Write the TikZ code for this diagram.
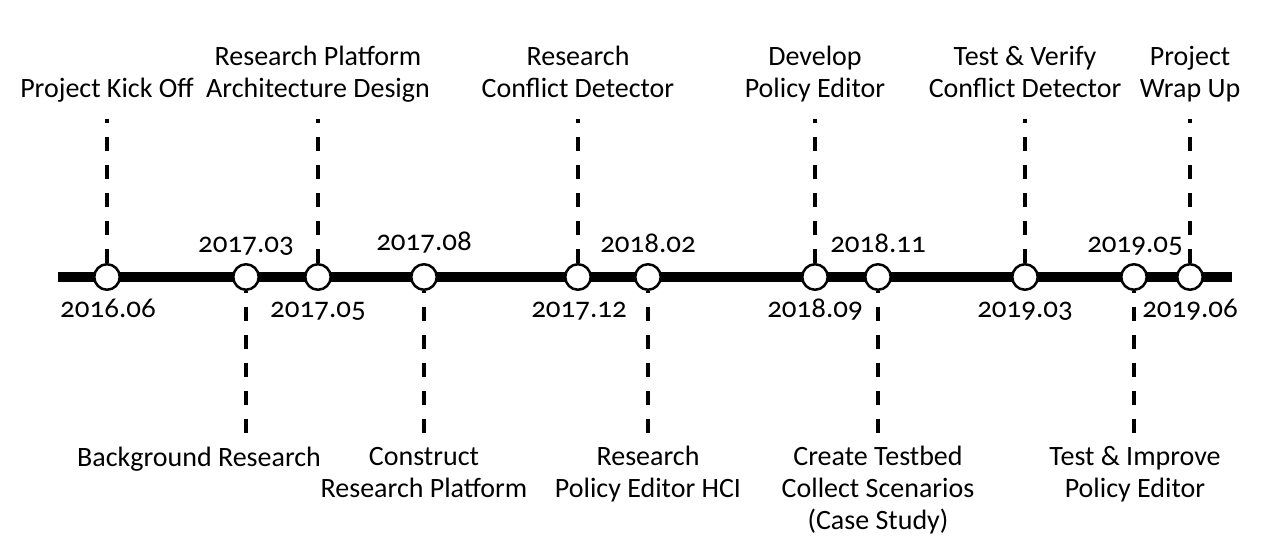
\documentclass[tikz,border=0pt]{standalone}
\usepackage{fontspec}
\setmainfont{Carlito}[Numbers=OldStyle]

\begin{document}
\begin{tikzpicture}[x=1pt, y=-1pt,
  every node/.style={font=\fontsize{28}{32}\selectfont},
  stone/.style={circle,draw=black,fill=white,line width=2.5pt,minimum size=25.5pt,inner sep=0pt},
  task/.style={align=center,anchor=base,inner sep=0pt},
  date/.style={anchor=base,inner sep=0pt,font=\fontsize{29}{32}\selectfont},
  lead/.style={line width=4pt,dash pattern=on 14pt off 14pt}]
\useasboundingbox (0,0) rectangle (1279,557);

% Time axis
\coordinate (start) at (58,277);
\coordinate (finish) at (1232,277);
\draw[line width=10pt] (start) -- (finish);

% Milestones on the axis
\node[stone] (m1)  at (107,277)  {};
\node[stone] (m2)  at (246,277)  {};
\node[stone] (m3)  at (318,277)  {};
\node[stone] (m4)  at (424,277)  {};
\node[stone] (m5)  at (578,277)  {};
\node[stone] (m6)  at (648,277)  {};
\node[stone] (m7)  at (815,277)  {};
\node[stone] (m8)  at (878,277)  {};
\node[stone] (m9)  at (1025,277) {};
\node[stone] (m10) at (1134,277) {};
\node[stone] (m11) at (1190,277) {};

% Dashed leaders, upwards
\coordinate (t1)  at (107,119);
\coordinate (t3)  at (318,119);
\coordinate (t5)  at (578,119);
\coordinate (t7)  at (815,119);
\coordinate (t9)  at (1025,119);
\coordinate (t11) at (1190,119);
\draw[lead] (m1.north) -- (t1);
\draw[lead] (m3.north) -- (t3);
\draw[lead] (m5.north) -- (t5);
\draw[lead] (m7.north) -- (t7);
\draw[lead] (m9.north) -- (t9);
\draw[lead] (m11.north) -- (t11);

% Dashed leaders, downwards
\coordinate (b2)  at (246,433);
\coordinate (b4)  at (424,433);
\coordinate (b6)  at (648,433);
\coordinate (b8)  at (878,433);
\coordinate (b10) at (1134,433);
\draw[lead] (b2) -- (m2.south);
\draw[lead] (b4) -- (m4.south);
\draw[lead] (b6) -- (m6.south);
\draw[lead] (b8) -- (m8.south);
\draw[lead] (b10) -- (m10.south);

% Tasks above (base = last line)
\node[task] (k1)  at (107,97)  {Project Kick Off};
\node[task] (k3)  at (318,97)  {Research Platform\\Architecture Design};
\node[task] (k5)  at (578,97)  {Research\\Conflict Detector};
\node[task] (k7)  at (815,97)  {Develop\\Policy Editor};
\node[task] (k9)  at (1025,97) {Test \& Verify\\Conflict Detector};
\node[task] (k11) at (1190,97) {Project\\Wrap Up};

% Tasks below
\node[task] (k2)  at (199,466) {Background Research};
\node[task] (k4)  at (424,497) {Construct\\Research Platform};
\node[task] (k6)  at (648,497) {Research\\Policy Editor HCI};
\node[task] (k8)  at (878,529) {Create Testbed\\Collect Scenarios\\(Case Study)};
\node[task] (k10) at (1135,497) {Test \& Improve\\Policy Editor};

% Dates
\node[date] (d1)  at (108,317)  {2016.06};
\node[date] (d2)  at (246,252)  {2017.03};
\node[date] (d3)  at (318,317)  {2017.05};
\node[date] (d4)  at (424,250)  {2017.08};
\node[date] (d5)  at (579,317)  {2017.12};
\node[date] (d6)  at (648,252)  {2018.02};
\node[date] (d7)  at (815,317)  {2018.09};
\node[date] (d8)  at (878,252)  {2018.11};
\node[date] (d9)  at (1025,317) {2019.03};
\node[date] (d10) at (1135,252) {2019.05};
\node[date] (d11) at (1190,317) {2019.06};
\end{tikzpicture}
\end{document}
